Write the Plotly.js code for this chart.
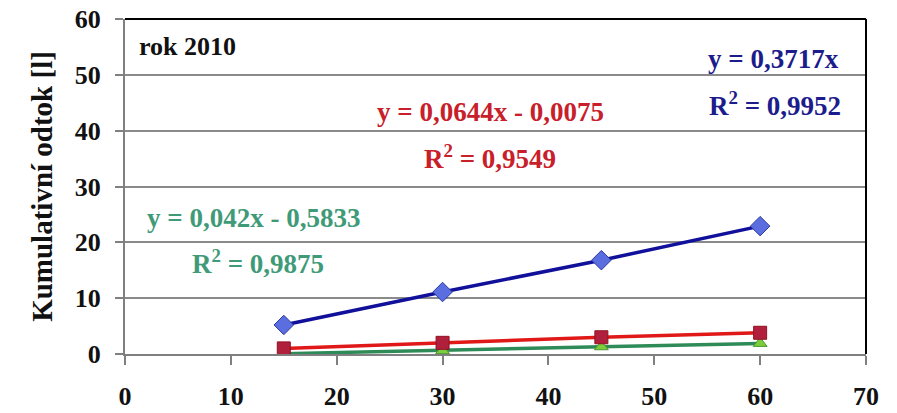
<!DOCTYPE html>
<html>
<head>
<meta charset="utf-8">
<script src="https://cdn.plot.ly/plotly-3.0.1.min.js"></script>
<style>html,body{margin:0;padding:0;background:#fff;}#chart{width:897px;height:413px;}</style>
</head>
<body>
<div id="chart"></div>
<script>
var xTime = [15, 30, 45, 60];
var blueVals = [5.2, 11.1, 16.8, 22.9];
var redVals = [1.0, 2.0, 3.0, 3.8];
var greenVals = [0.05, 0.6, 1.3, 1.9];
var xTicks = [0, 10, 20, 30, 40, 50, 60, 70];
var yTicks = [0, 10, 20, 30, 40, 50, 60];
var yTitle = "Kumulativní odtok [l]";
var yearLabel = "rok 2010";
var eqBlue = ["y = 0,3717x", "R<sup>2</sup> = 0,9952"];
var eqRed = ["y = 0,0644x - 0,0075", "R<sup>2</sup> = 0,9549"];
var eqGreen = ["y = 0,042x - 0,5833", "R<sup>2</sup> = 0,9875"];

var F = "Liberation Serif, Times New Roman, serif";

var traces = [
  {x: xTime, y: greenVals, mode: "lines+markers", line: {color: "#2e8b57", width: 3.5},
   marker: {symbol: "triangle-up", size: 12, color: "#7ccc3c", line: {color: "#4a9a30", width: 1}}},
  {x: xTime, y: redVals, mode: "lines+markers", line: {color: "#e01818", width: 3.5},
   marker: {symbol: "square", size: 13, color: "#b0203c", line: {color: "#901020", width: 1}}},
  {x: xTime, y: blueVals, mode: "lines+markers", line: {color: "#10109a", width: 3.5},
   marker: {symbol: "diamond", size: 15, color: "#5a6ee0", line: {color: "#2a3aa0", width: 1}}}
];

function ann(x, y, text, color, size) {
  return {xref: "paper", yref: "paper", x: x, y: y, text: text, showarrow: false,
    font: {family: F, size: size, color: color, weight: "bold"}, xanchor: "center", yanchor: "middle"};
}
function px(p) { return (p - 125) / (866 - 125); }
function py(p) { return (354 - p) / (354 - 19); }

var layout = {
  width: 897, height: 413,
  margin: {l: 125, r: 31, t: 19, b: 59},
  paper_bgcolor: "#fff", plot_bgcolor: "#fff",
  showlegend: false,
  xaxis: {range: [0, 70], tickvals: xTicks, ticktext: xTicks.map(String), showgrid: false, zeroline: false,
    showline: true, linecolor: "#808080", linewidth: 2, ticks: "outside", ticklen: 9, tickcolor: "#808080", tickwidth: 2,
    ticklabelstandoff: 9, tickfont: {family: F, size: 26, color: "#111", weight: "bold"}},
  yaxis: {range: [0, 60], tickvals: yTicks, ticktext: yTicks.map(String), showgrid: true, gridcolor: "#8a8a8a", gridwidth: 2,
    zeroline: false, showline: true, linecolor: "#808080", linewidth: 2, ticks: "outside", ticklen: 8, tickcolor: "#808080", tickwidth: 2,
    ticklabelstandoff: 9, tickfont: {family: F, size: 26, color: "#111", weight: "bold"},
    title: {text: yTitle, standoff: 14, font: {family: F, size: 29, color: "#111", weight: "bold"}}},
  shapes: [
    {type: "line", xref: "paper", yref: "paper", x0: 0, x1: 1, y0: 1, y1: 1, line: {color: "#000", width: 2}},
    {type: "line", xref: "paper", yref: "paper", x0: 1, x1: 1, y0: 0, y1: 1, line: {color: "#000", width: 2}}
  ],
  annotations: [
    {xref: "paper", yref: "paper", x: px(137), y: py(46), text: yearLabel, showarrow: false, xanchor: "left", yanchor: "middle",
     font: {family: F, size: 26, color: "#111", weight: "bold"}},
    ann(px(773), py(59), eqBlue[0], "#1c1c8c", 27),
    ann(px(775), py(104), eqBlue[1], "#1c1c8c", 27),
    ann(px(490), py(112), eqRed[0], "#c8202a", 27),
    ann(px(490), py(157), eqRed[1], "#c8202a", 27),
    ann(px(253), py(218), eqGreen[0], "#3f9a78", 27),
    ann(px(258), py(262), eqGreen[1], "#3f9a78", 27)
  ]
};
Plotly.newPlot("chart", traces, layout, {displayModeBar: false, staticPlot: true});
</script>
</body>
</html>
